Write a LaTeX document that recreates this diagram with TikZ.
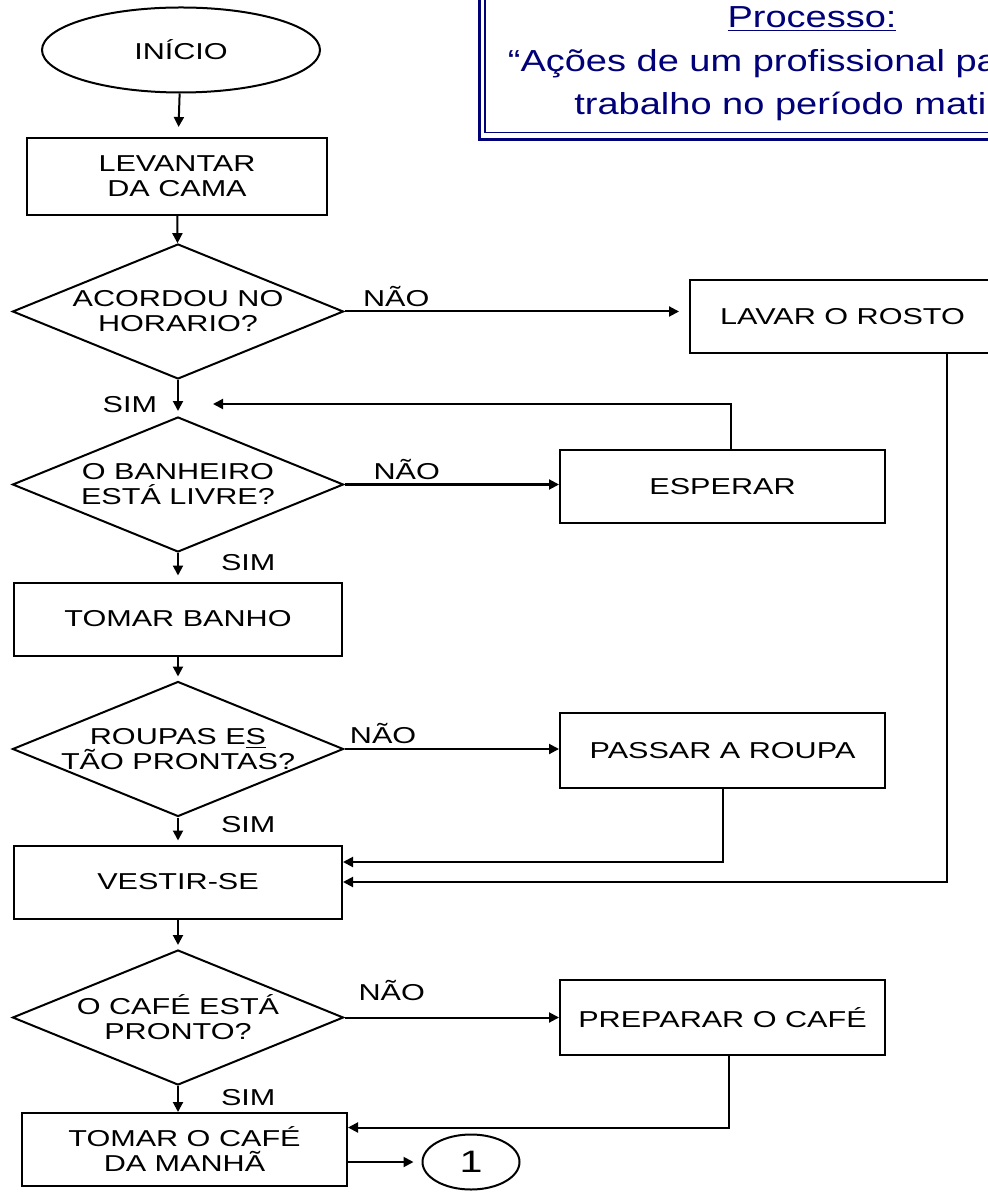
\documentclass[tikz,border=0pt]{standalone}
\usepackage{fontspec}
\setmainfont[FakeStretch=1.33]{Liberation Sans}
\newfontfamily\titlefont[FakeStretch=1.25]{Liberation Sans}
\usetikzlibrary{arrows.meta, shapes.geometric, positioning}
\definecolor{navyblue}{RGB}{0,0,120}

\begin{document}
\begin{tikzpicture}[
    x=0.5pt, y=-0.5pt,
    line width=1pt,
    font=\fontsize{11.5}{12.5}\selectfont,
    box/.style  = {draw, minimum width=#1, minimum height=36.5pt, align=center},
    box/.default = 162.5pt,
    dec/.style  = {draw, diamond, aspect=2.45, minimum width=165.5pt,
                   minimum height=67.5pt, inner sep=0pt, align=center},
    term/.style = {draw, ellipse, inner sep=0pt, align=center},
    arr/.style  = {-{Triangle[length=5pt, width=5pt]}},
    gap/.style  = {arr, shorten >=#1},
    gap/.default = 4pt,
    lbl/.style  = {inner sep=2pt},
]
\useasboundingbox (0,0) rectangle (988,1202);
\clip (0,0) rectangle (988,1202);

% Title (cut off at the right)
\node[font=\titlefont\fontsize{15.2}{21.8}\selectfont, text=navyblue, align=center]
    (titulo) at (812,64) {\underline{Processo:}\\“Ações de um profissional para ir ao\\trabalho no período matinal”};
\draw[navyblue, line width=1.5pt] (479.5,-10) rectangle (1144.5,139.5);
\draw[navyblue, line width=0.75pt] (485,-10) rectangle (1139,132.5);

% Main column
\node[term, minimum width=139pt, minimum height=42.5pt] (inicio) at (181,50) {INÍCIO};
\node[box=150pt, minimum height=38.5pt] (levantar) at (177,176.5) {LEVANTAR\\DA CAMA};
\node[dec] (acordou)  at (178,311.5) {ACORDOU NO\\HORARIO?};
\node[dec] (banheiro) at (178,484.5) {O BANHEIRO\\ESTÁ LIVRE?};
\node[box=164pt] (banho) at (178,619) {TOMAR BANHO};
\node[dec, inner xsep=-8pt] (roupas) at (178,749) {ROUPAS E\underline{S}\\TÃO PRONTAS?};
\node[box=164pt] (vestir) at (178,882) {VESTIR-SE};
\node[dec] (cafe) at (178,1017.5) {O CAFÉ ESTÁ\\PRONTO?};
\node[box] (tomarcafe) at (184.5,1149.5) {TOMAR O CAFÉ\\DA MANHÃ};
\node[term, minimum width=48.5pt, minimum height=27.5pt,
      font=\fontsize{15.5}{16}\selectfont] (um) at (471,1162) {1};

% Side column
\node[box=152.5pt] (lavar) at (842.5,316.5) {LAVAR O ROSTO};
\node[box] (esperar)  at (722.5,486.5) {ESPERAR};
\node[box, minimum height=37.5pt] (passar)   at (722.5,750.5) {PASSAR A ROUPA};
\node[box, minimum height=37.5pt] (preparar) at (722.5,1017.5) {PREPARAR O CAFÉ};

% Connectors
\draw[gap=5pt] (inicio) -- (levantar);
\draw[arr] (levantar) -- (acordou);
\draw[gap=5pt] (acordou.east) -- node[lbl, above, pos=0.15] {NÃO} (acordou.east -| lavar.west);
\draw[gap=2.5pt] (acordou) -- node[lbl, left=8pt, pos=0.68] {SIM} (banheiro);
\coordinate (retorno) at (213,404);
\draw[arr] ([xshift=4pt]esperar.north) |- (retorno);
\draw[arr] (banheiro.east) -- node[lbl, above, pos=0.29] {NÃO} (banheiro.east -| esperar.west);
\draw[gap=3pt] (banheiro) -- node[lbl, right=19pt, pos=0.32] {SIM} (banho);
\draw[gap=2pt] (banho) -- (roupas);
\draw[arr] (roupas.east) -- node[lbl, above, pos=0.18] {NÃO} (roupas.east -| passar.west);
\draw[gap=2pt] (roupas) -- node[lbl, right=19pt, pos=0.27] {SIM} (vestir);
\draw[arr] (passar.south) |- ([yshift=10pt]vestir.east);
\draw[arr] ([xshift=-24.5pt]lavar.south east) |- (vestir.east);
\draw[gap=2pt] (vestir) -- (cafe);
\draw[arr] (cafe.east) -- node[lbl, above=6pt, pos=0.22] {NÃO} (cafe.east -| preparar.west);
\draw[arr] (cafe.south) -- node[lbl, right=19pt, pos=0.43] {SIM} (cafe.south |- tomarcafe.north);
\draw[arr] ([xshift=3pt]preparar.south) |- ([yshift=11pt]tomarcafe.east);
\draw[gap=4pt] (um.west -| tomarcafe.east) -- (um.west);
\end{tikzpicture}
\end{document}
